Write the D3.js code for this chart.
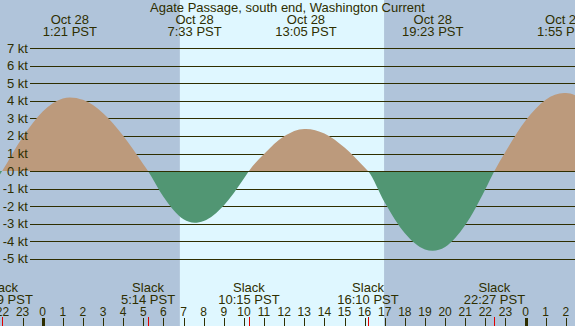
<!DOCTYPE html>
<html>
<head>
<meta charset="utf-8">
<script src="https://cdn.jsdelivr.net/npm/d3@7"></script>
<style>
  html, body { margin: 0; padding: 0; background: #dff7ff; }
  svg { display: block; font-family: "Liberation Sans", Arial, sans-serif; }
</style>
</head>
<body>
<div id="chart"></div>
<script>
const title = 'Agate Passage, south end, Washington Current';

// max / min current, kt (PST)
const peakTimes = ['2001-10-28 01:21', '2001-10-28 07:33', '2001-10-28 13:05', '2001-10-28 19:23', '2001-10-29 01:55'];
const peakValues = [4.2, -2.95, 2.4, -4.55, 4.45];

// slack water
const slackTimes = ['2001-10-27 21:59', '2001-10-28 05:14', '2001-10-28 10:15', '2001-10-28 16:10', '2001-10-28 22:27'];

// speed every hour, starting 21:00 the day before
const hourStart = '2001-10-27 21:00';
const hourValues = [
  -1.86, 0.03, 1.92, 3.39, 4.14, 4.06, 3.30, 2.01, 0.39, -1.47,
  -2.75, -2.85, -1.96, -0.43, 0.97, 1.98, 2.40, 2.14, 1.34, 0.20,
  -1.80, -3.55, -4.47, -4.33, -3.08, -1.04, 1.10, 2.88, 4.07, 4.45,
  3.96,
];

const sunrise = '2001-10-28 06:49';
const sunset = '2001-10-28 16:58';

const yTicks = [7, 6, 5, 4, 3, 2, 1, 0, -1, -2, -3, -4, -5];

const width = 575;
const height = 326;
const ink = '#2e2e00';
const colors = { night: '#b0c4da', day: '#dff7ff', flood: '#bc9a7c', ebb: '#519673' };

const parse = d3.utcParse('%Y-%m-%d %H:%M');
const fmtDate = d3.utcFormat('%b %-d');
const fmtTime = d3.utcFormat('%-H:%M PST');
const fmtHour = d3.utcFormat('%-H');

const peaks = peakTimes.map((t, i) => ({ t: parse(t), v: peakValues[i] }));
const slacks = slackTimes.map(t => ({ t: parse(t), v: 0 }));
const hourly = hourValues.map((v, i) => ({ t: d3.utcHour.offset(parse(hourStart), i), v }));
const curve = [...hourly, ...peaks, ...slacks].sort((a, b) => a.t - b.t);

const x = d3.scaleUtc()
  .domain([new Date(Date.UTC(2001, 9, 27, 21, 52, 40)), new Date(Date.UTC(2001, 9, 29, 2, 27, 20))])
  .range([0, width]);
const y = d3.scaleLinear().domain([-5, 7]).range([258.7, 48.3]);

const svg = d3.select('#chart').append('svg')
  .attr('width', width)
  .attr('height', height);

svg.append('rect')
  .attr('width', width).attr('height', height)
  .attr('fill', colors.day);

// night shading
const [x0, x1] = x.domain();
[[x0, parse(sunrise)], [parse(sunset), x1]].forEach(([a, b]) => {
  svg.append('rect')
    .attr('x', x(a)).attr('y', 0)
    .attr('width', x(b) - x(a)).attr('height', height)
    .attr('fill', colors.night);
});

svg.append('g')
  .selectAll('line')
  .data(yTicks)
  .join('line')
    .attr('x1', 30).attr('x2', width)
    .attr('y1', d => Math.round(y(d)) + 0.5)
    .attr('y2', d => Math.round(y(d)) + 0.5)
    .attr('stroke', ink);

const defs = svg.append('defs');
defs.append('clipPath').attr('id', 'above')
  .append('rect').attr('x', 0).attr('y', 0).attr('width', width).attr('height', y(0));
defs.append('clipPath').attr('id', 'below')
  .append('rect').attr('x', 0).attr('y', y(0)).attr('width', width).attr('height', height - y(0));

const area = d3.area()
  .x(d => x(d.t))
  .y0(y(0))
  .y1(d => y(d.v))
  .curve(d3.curveMonotoneX);

svg.append('path').datum(curve)
  .attr('clip-path', 'url(#above)')
  .attr('fill', colors.flood)
  .attr('d', area);
svg.append('path').datum(curve)
  .attr('clip-path', 'url(#below)')
  .attr('fill', colors.ebb)
  .attr('d', area);

// zero line sits over the fill
svg.append('line')
  .attr('x1', 30).attr('x2', width)
  .attr('y1', Math.round(y(0)) + 0.5).attr('y2', Math.round(y(0)) + 0.5)
  .attr('stroke', ink);

const text = (sel, size = 13) => sel
  .attr('fill', ink)
  .attr('font-size', size);

svg.append('g')
  .selectAll('text')
  .data(yTicks)
  .join('text')
    .attr('x', 28)
    .attr('y', d => y(d) + 4.5)
    .attr('text-anchor', 'end')
    .text(d => `${d} kt`)
    .call(text);

svg.append('text')
  .attr('x', width / 2).attr('y', 12)
  .attr('text-anchor', 'middle')
  .text(title)
  .call(text);

const peakLabels = svg.append('g')
  .selectAll('g')
  .data(peaks)
  .join('g')
    .attr('transform', d => `translate(${x(d.t)},0)`);
peakLabels.append('text').attr('y', 24).attr('text-anchor', 'middle')
  .text(d => fmtDate(d.t)).call(text);
peakLabels.append('text').attr('y', 36).attr('text-anchor', 'middle')
  .text(d => fmtTime(d.t)).call(text);

const slackLabels = svg.append('g')
  .selectAll('g')
  .data(slacks)
  .join('g')
    .attr('transform', d => `translate(${x(d.t)},0)`);
slackLabels.append('text').attr('y', 292).attr('text-anchor', 'middle')
  .text('Slack').call(text);
slackLabels.append('text').attr('y', 304).attr('text-anchor', 'middle')
  .text(d => fmtTime(d.t)).call(text);

// hour axis
const hours = x.ticks(d3.utcHour.every(1));
const axis = svg.append('g');
axis.selectAll('text')
  .data(hours)
  .join('text')
    .attr('x', d => x(d))
    .attr('y', 315.5)
    .attr('text-anchor', 'middle')
    .text(d => fmtHour(d))
    .call(text, 12);
axis.selectAll('rect.hour')
  .data(hours)
  .join('rect')
    .attr('class', 'hour')
    .attr('x', d => (d.getUTCHours() === 0 ? Math.round(x(d)) - 1 : Math.round(x(d))))
    .attr('y', 318)
    .attr('width', d => (d.getUTCHours() === 0 ? 3 : 1))
    .attr('height', 8)
    .attr('fill', ink);
axis.selectAll('rect.slack')
  .data(slacks)
  .join('rect')
    .attr('class', 'slack')
    .attr('x', d => Math.round(x(d.t)))
    .attr('y', 317)
    .attr('width', 1)
    .attr('height', 9)
    .attr('fill', '#e00000');
</script>
</body>
</html>
